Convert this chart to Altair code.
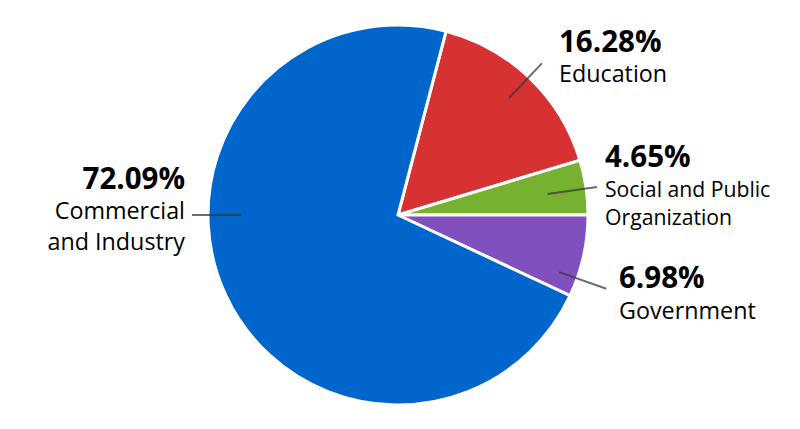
import math
import altair as alt
import pandas as pd

# ---- data ----
categories = ["Education", "Social and Public Organization", "Government", "Commercial and Industry"]
shares = [16.28, 4.65, 6.98, 72.09]
label_lines = [["Education"], ["Social and Public", "Organization"], ["Government"], ["Commercial", "and Industry"]]
colors = ["#D63233", "#77B130", "#8050BF", "#0066CC"]

# ---- layout (pixels, chart coordinates) ----
CX, CY, R = 390, 207, 190
FONT = "Open Sans"
# leader lines: angle (deg, clockwise from 12 o'clock), inner radius, outer radius
leader_angle = [43.5, 82.0, 109.5, 270.0]
leader_r1 = [161, 151, 171, 157]
leader_r2 = [209, 201, 221, 206]
# label anchors: x, percent baseline, first name baseline, line step, name size, align
lab_x = [551, 597, 611, 177]
pct_base = [44, 159, 280, 181]
name_base = [74, 189, 311, 211]
name_step = [30, 28, 30, 31]
name_size = [23.3, 21.2, 23.3, 23.3]
lab_align = ["left", "left", "left", "right"]
PCT_SIZE = 29.5

total = sum(shares)
start = math.pi / 2 - 2 * math.pi * (shares[0] + shares[1]) / total

pie_df = pd.DataFrame({"category": categories, "share": shares, "idx": range(len(categories))})

pie = alt.Chart(pie_df).mark_arc(outerRadius=R, stroke="white", strokeWidth=3).encode(
    theta=alt.Theta("share:Q", stack=True, scale=alt.Scale(range=[start, start + 2 * math.pi])),
    order=alt.Order("idx:Q"),
    color=alt.Color("category:N", scale=alt.Scale(domain=categories, range=colors), legend=None),
    x=alt.value(CX),
    y=alt.value(CY),
)

lead_rows = []
for a, r1, r2 in zip(leader_angle, leader_r1, leader_r2):
    t = math.radians(a)
    lead_rows.append({
        "x": CX + r1 * math.sin(t), "y": CY - r1 * math.cos(t),
        "x2": CX + r2 * math.sin(t), "y2": CY - r2 * math.cos(t),
    })
lead_df = pd.DataFrame(lead_rows)
leaders = alt.Chart(lead_df).mark_rule(color="#3a3a3a", opacity=0.75, strokeWidth=2).encode(
    x=alt.X("x:Q", scale=None), y=alt.Y("y:Q", scale=None),
    x2="x2:Q", y2="y2:Q",
)

text_layers = []
for align in ["left", "right"]:
    pct_rows, name_rows = [], []
    for i, c in enumerate(categories):
        if lab_align[i] != align:
            continue
        pct_rows.append({"x": lab_x[i], "y": pct_base[i], "t": f"{shares[i]:.2f}%"})
        for j, line in enumerate(label_lines[i]):
            name_rows.append({"x": lab_x[i], "y": name_base[i] + j * name_step[i], "t": line, "fs": name_size[i]})
    pct = alt.Chart(pd.DataFrame(pct_rows)).mark_text(
        align=align, baseline="alphabetic", font=FONT, fontWeight="bold", fontSize=PCT_SIZE, color="#000000"
    ).encode(x=alt.X("x:Q", scale=None), y=alt.Y("y:Q", scale=None), text="t:N")
    names = alt.Chart(pd.DataFrame(name_rows)).mark_text(
        align=align, baseline="alphabetic", font=FONT, color="#000000"
    ).encode(x=alt.X("x:Q", scale=None), y=alt.Y("y:Q", scale=None), text="t:N",
             size=alt.Size("fs:Q", scale=None, legend=None))
    text_layers += [pct, names]

chart = alt.layer(pie, leaders, *text_layers).properties(
    width=784, height=413, padding=0, background="white"
).configure_view(stroke=None)

chart.save("out.html", embed_options={"renderer": "svg", "actions": False})
